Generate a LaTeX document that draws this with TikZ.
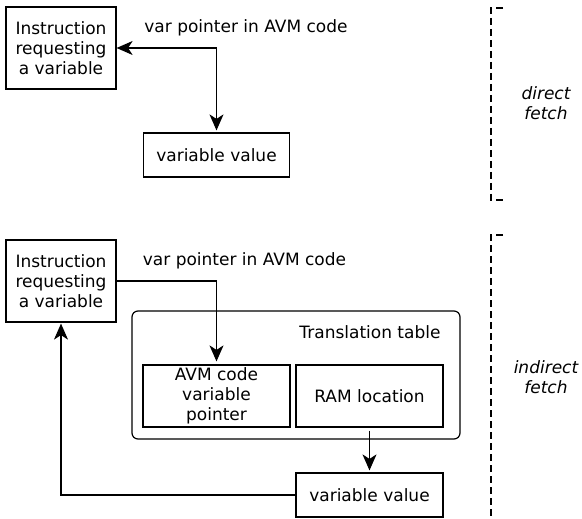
\documentclass[tikz,border=0pt]{standalone}
\usepackage{fontspec}
\setmainfont{DejaVu Sans}
\usetikzlibrary{arrows.meta}
\begin{document}
\begin{tikzpicture}[x=1pt,y=-1pt, font=\fontsize{17}{20}\selectfont,
 box/.style={draw, line width=1.2pt, inner sep=0pt, align=center},
 head/.tip={Stealth[length=16pt,width=14pt,inset=4.5pt]},
 conn/.style={line width=1.2pt, -head},
 dconn/.style={line width=1.2pt, head-head},
 bracket/.style={line width=1.2pt, dash pattern=on 7pt off 4pt},
 side/.style={font=\fontsize{17}{20}\selectfont\itshape, align=center}]
\useasboundingbox (0,0) rectangle (582,519);
% direct fetch
\node[box, minimum width=110pt, minimum height=82pt] (ins1) at (61,48) {Instruction\\requesting\\a variable};
\node (lab1) at (246,28) {var pointer in AVM code};
\node[box, minimum width=146pt, minimum height=44pt] (val1) at (216.5,155) {variable value};
\draw[dconn, shorten >=2pt] (ins1.east) -| (val1.north);
\draw[bracket] (503,8) -- (491,8) -- (491,200) -- (503,200);
\node[side] (df) at (546,103) {direct\\fetch};
% indirect fetch
\node[box, minimum width=110pt, minimum height=82pt] (ins2) at (61,281) {Instruction\\requesting\\a variable};
\node (lab2) at (244.5,261) {var pointer in AVM code};
\node[draw, line width=1.2pt, rounded corners=6pt, minimum width=328pt, minimum height=128pt] (tbl) at (296,375) {};
\node (tbllab) at (370,332) {Translation table};
\node[box, minimum width=147pt, minimum height=62pt] (avm) at (216.5,396) {AVM code\\variable\\pointer};
\node[box, minimum width=147pt, minimum height=62pt] (ram) at (369.5,396) {RAM location};
\node[box, minimum width=147pt, minimum height=44pt] (val2) at (369.5,495) {variable value};
\draw[conn, shorten >=3pt] (ins2.east) -| (avm.north);
\draw[conn, shorten <=3pt, shorten >=2pt] (ram.south) -- (val2.north);
\draw[conn, shorten >=1pt] (val2.west) -| (ins2.south);
\draw[bracket] (503,235) -- (491,235) -- (491,519);
\node[side] (idf) at (546,377) {indirect\\fetch};
\end{tikzpicture}
\end{document}
